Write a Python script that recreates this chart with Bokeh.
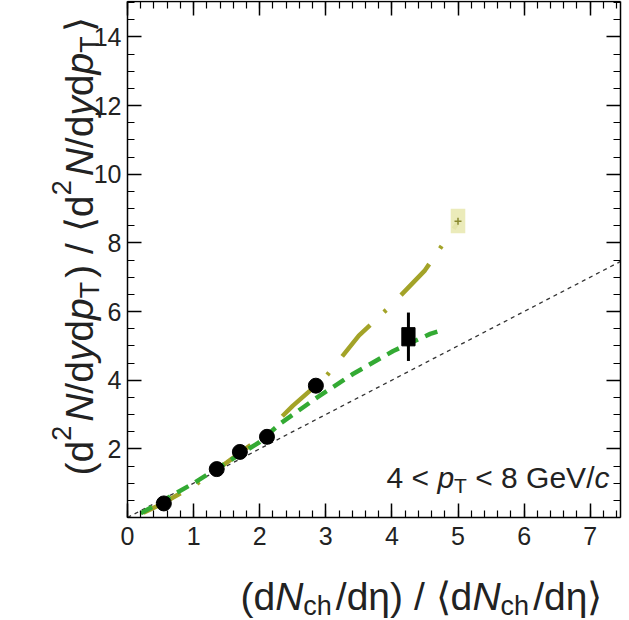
import math
from bokeh.plotting import figure
from bokeh.models import Range1d, FixedTicker, LinearAxis, Label
from bokeh.embed import file_html
from bokeh.resources import INLINE

# ---------------- data ----------------
circ_x = [0.55, 1.35, 1.70, 2.11, 2.85]
circ_y = [0.41, 1.41, 1.91, 2.35, 3.84]

sq_x = [4.25]
sq_y = [5.27]
sq_err_lo = [4.56]
sq_err_hi = [5.97]
sq_sys_lo = [5.00]
sq_sys_hi = [5.53]

pale_x = [5.0]
pale_y = [8.63]
pale_sys_lo = [8.28]
pale_sys_hi = [8.99]

green_x = [0.2, 0.5, 1.0, 1.5, 2.0, 2.3, 2.87, 3.41, 4.02, 4.58, 4.7]
green_y = [0.12, 0.45, 1.0, 1.6, 2.2, 2.72, 3.5, 4.18, 4.85, 5.35, 5.42]

olive_x = [0.2, 0.5, 1.0, 1.5, 2.0, 2.5, 3.0, 3.5, 4.0, 4.5, 5.0]
olive_y = [0.1, 0.38, 0.92, 1.6, 2.3, 3.25, 4.1, 5.3, 6.2, 7.2, 8.6]

diag_x = [0.0, 7.46]
diag_y = [0.0, 7.46]

x_ticks = [0, 1, 2, 3, 4, 5, 6, 7]
y_ticks = [2, 4, 6, 8, 10, 12, 14]

X_MAX = 7.46
Y_MAX = 15.03

FONT = "Liberation Sans"
TXT = "#222222"

W_PX, H_PX = 629, 620
FL, FB = 127, 517          # frame corner (data 0,0) in page pixels
SX, SY = 66.1, 34.33       # pixels per data unit

p = figure(width=W_PX, height=H_PX, output_backend="svg", toolbar_location=None,
           x_range=Range1d(-FL / SX, (W_PX - FL) / SX),
           y_range=Range1d((FB - H_PX) / SY, FB / SY),
           min_border=0, min_border_left=0, min_border_right=0,
           min_border_top=0, min_border_bottom=0)
p.xgrid.visible = False
p.ygrid.visible = False
p.outline_line_color = None
p.background_fill_color = "white"
p.border_fill_color = "white"

x_minor = [i * 0.2 for i in range(0, 38)]
y_minor = [i * 0.5 for i in range(0, 31)]
xt = FixedTicker(ticks=x_ticks, minor_ticks=x_minor)
yt = FixedTicker(ticks=y_ticks, minor_ticks=y_minor)


def style_axis(ax, show_labels):
    ax.axis_line_color = "black"
    ax.axis_line_width = 1.5
    ax.major_tick_in = 14
    ax.major_tick_out = 0
    ax.minor_tick_in = 7
    ax.minor_tick_out = 0
    ax.major_tick_line_width = 1.5
    ax.minor_tick_line_width = 1.2
    ax.major_tick_line_color = "black"
    ax.minor_tick_line_color = "black"
    if show_labels:
        ax.major_label_text_font = FONT
        ax.major_label_text_font_size = "25px"
        ax.major_label_text_color = TXT
    else:
        ax.major_label_text_font_size = "1px"
        ax.major_label_text_color = None
        ax.major_label_standoff = 0


xa = p.xaxis[0]
ya = p.yaxis[0]
xa.ticker = xt
ya.ticker = yt
style_axis(xa, True)
style_axis(ya, True)
xa.major_label_standoff = 9
ya.major_label_standoff = 6
xa.fixed_location = 0
ya.fixed_location = 0
xa.bounds = (0, X_MAX)
ya.bounds = (0, Y_MAX)

top = LinearAxis(ticker=xt, fixed_location=Y_MAX, bounds=(0, X_MAX))
style_axis(top, False)
p.add_layout(top, "above")
right = LinearAxis(ticker=yt, fixed_location=X_MAX, bounds=(0, Y_MAX))
style_axis(right, False)
p.add_layout(right, "right")

# reference line
p.line(diag_x, diag_y, line_color="#333333", line_width=1.3, line_dash="4 4")

# olive model curve (long dash - dot)
p.line(olive_x, olive_y, line_color="#a3a328", line_width=4.5,
       line_dash="42 19 3 21", line_dash_offset=82)

# green model curve
p.line(green_x, green_y, line_color="#33aa33", line_width=4.5, line_dash="13 8")

# pale point
p.quad(left=[x - 0.11 for x in pale_x], right=[x + 0.11 for x in pale_x],
       bottom=pale_sys_lo, top=pale_sys_hi, fill_color="#e9e9b4", fill_alpha=0.92,
       line_color=None)
p.scatter(pale_x, pale_y, marker="cross", size=7, line_color="#8a8a30", line_width=1.5)

# black square with errors
p.segment(x0=sq_x, y0=sq_err_lo, x1=sq_x, y1=sq_err_hi, line_color="black", line_width=3)
p.quad(left=[x - 0.1 for x in sq_x], right=[x + 0.1 for x in sq_x],
       bottom=sq_sys_lo, top=sq_sys_hi, fill_color="black", line_color="black")

# black circles
p.scatter(circ_x, circ_y, marker="circle", size=15, fill_color="black", line_color="black")

# ---------------- rich text ----------------
W = {'(': .333, ')': .333, 'd': .556, 'N': .722, 'c': .5, 'h': .556, '/': .278,
     'η': .556, ' ': .278, '⟨': .39, '⟩': .39, 'y': .5, 'p': .556, 'T': .611,
     '2': .556, '<': .584, '4': .556, '8': .556, 'G': .778, 'e': .556, 'V': .667}


def width(txt, size):
    return sum(W.get(ch, 0.55) for ch in txt) * size


def place(runs, x0, y0, vertical=False, gap=0.0):
    """x0, y0: start of the baseline in page pixels (y down). shift > 0 raises."""
    pos = 0.0
    for txt, size, style, shift in runs:
        if vertical:
            px, py = x0 - shift, y0 - pos
        else:
            px, py = x0 + pos, y0 - shift
        p.add_layout(Label(x=0, y=0, x_offset=px - FL, y_offset=FB - py,
                           text=txt.replace(" ", "\u00a0"), text_font=FONT,
                           text_font_size=f"{size}px", text_font_style=style,
                           text_color=TXT, text_align="left",
                           text_baseline="alphabetic",
                           angle=(math.pi / 2 if vertical else 0)))
        pos += width(txt, size)
        if shift != 0:
            pos += gap


F = 39
S = round(F * 0.7)
sub = -0.27 * F
sup = 0.45 * F

place([("(d", F, "normal", 0), ("2", S, "normal", sup), ("N", F, "italic", 0),
       ("/d", F, "normal", 0), ("y", F, "italic", 0), ("d", F, "normal", 0),
       ("p", F, "italic", 0), ("T", S, "normal", sub),
       (") / ⟨d", F, "normal", 0), ("2", S, "normal", sup), ("N", F, "italic", 0),
       ("/d", F, "normal", 0), ("y", F, "italic", 0), ("d", F, "normal", 0),
       ("p", F, "italic", 0), ("T", S, "normal", sub), ("⟩", F, "normal", 0)],
      79, 475, vertical=True, gap=4)

place([("(d", F, "normal", 0), ("N", F, "italic", 0), ("ch", S, "normal", -9),
       ("/dη) / ⟨d", F, "normal", 0), ("N", F, "italic", 0), ("ch", S, "normal", -9),
       ("/dη⟩", F, "normal", 0)], 240, 596, gap=4)

A = 30
place([("4 < ", A, "normal", 0), ("p", A, "italic", 0), ("T", 21, "normal", -8),
       (" < 8 GeV/", A, "normal", 0), ("c", A, "italic", 0)], 386, 477)

open("out.html", "w").write(file_html(p, INLINE))
